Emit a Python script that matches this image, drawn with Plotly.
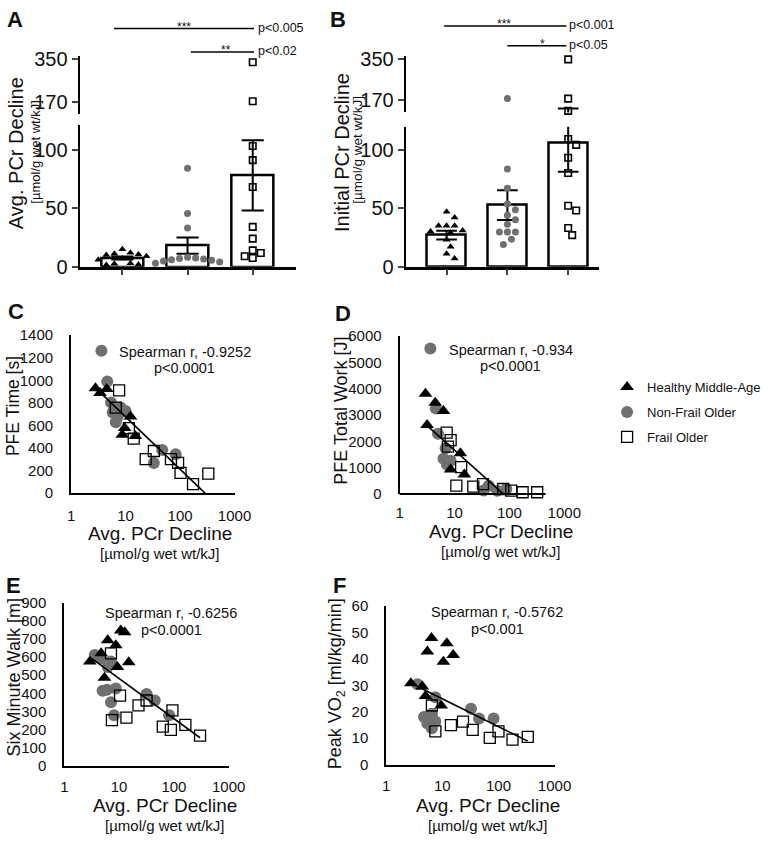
import numpy as np
import plotly.graph_objects as go

W, H = 770, 843
FUENTE = "Arial, 'Liberation Sans', sans-serif"
GRIS = "#707070"
NEGRO = "#111111"

grupos = ["Healthy Middle-Age", "Non-Frail Older", "Frail Older"]

# --- A: Avg. PCr Decline por grupo (puntos individuales, media y SEM)
a_sanos = [15, 12, 11, 10.5, 10, 9, 7, 6, 3, 2.5, 2, 1.5]
a_nofragil = [84, 45.5, 33, 8, 7.5, 7, 6.5, 6, 5.5, 5, 4, 3]
a_fragil = [335, 175, 103, 91, 68, 34, 24, 14, 11.7, 9, 7.5]
a_media = [7.5, 18, 78]
a_sem = [1.3, 7, 30]

# --- B: Initial PCr Decline por grupo
b_sanos = [47, 42, 35, 35, 35, 31, 30, 29, 23, 17, 11, 7]
b_nofragil = [174, 83.5, 67, 53.6, 48.6, 43.9, 40.2, 36.3, 29.6, 29.6, 29.6, 23.5, 19]
b_fragil = [346, 174, 120, 109, 104, 93, 80, 52, 48, 33, 27]
b_media = [27, 52.5, 106]
b_sem = [3.7, 12.7, 25]

# --- C: PFE Time vs Avg. PCr Decline
c_sanos_x = [2.8, 3.4, 4.5, 12.3, 9.6, 8.7, 15.1]
c_sanos_y = [930, 888, 922, 680, 577, 518, 507]
c_nofragil_x = [3.6, 4.6, 5.4, 5.8, 6.6, 6.6, 8.1, 10.0, 7.2, 47, 83, 33]
c_nofragil_y = [1262, 988, 803, 714, 700, 628, 758, 729, 680, 383, 345, 268]
c_fragil_x = [7.6, 6.6, 11.5, 14.1, 33, 23.4, 68, 92, 102, 173, 330]
c_fragil_y = [910, 758, 576, 484, 374, 302, 302, 268, 181, 80, 173]
c_ajuste = [1139, -463]
c_ajuste_x = [2.8, 290]

# --- D: PFE Total Work vs Avg. PCr Decline
d_sanos_x = [2.96, 4.46, 6.3, 3.17, 12.8, 8.5, 15.1]
d_sanos_y = [3810, 3466, 3154, 2623, 1547, 928, 742]
d_nofragil_x = [3.63, 4.57, 5.0, 6.9, 6.3, 8.5, 7.3, 42, 34, 88, 60]
d_nofragil_y = [5529, 3243, 2290, 1733, 1336, 1262, 1113, 312, 126, 186, 120]
d_fragil_x = [7.2, 8.5, 7.6, 13.2, 10.8, 22, 33, 77, 108, 174, 321]
d_fragil_y = [2326, 2041, 1800, 1017, 312, 274, 371, 186, 126, 63, 63]
d_ajuste = [3533, -1872]
d_ajuste_x = [3.17, 77]

# --- E: Six Minute Walk vs Avg. PCr Decline
e_sanos_x = [2.93, 6.2, 8.7, 10.7, 12.6, 9.3, 5.4, 15, 4.7]
e_sanos_y = [576, 693, 666, 747, 738, 545, 486, 571, 621]
e_nofragil_x = [3.6, 4.7, 7.1, 6.2, 5.0, 8.7, 7.1, 8.1, 31.7, 44.7, 82, 6.0]
e_nofragil_y = [612, 594, 576, 545, 414, 427, 351, 279, 396, 360, 279, 420]
e_fragil_x = [7.1, 10.4, 13.6, 7.4, 22.6, 31.7, 62.7, 88, 94, 162, 300]
e_fragil_y = [621, 387, 265, 252, 333, 360, 216, 198, 306, 225, 166]
e_ajuste = [704, -222]
e_ajuste_x = [3.1, 300]

# --- F: Peak VO2 vs Avg. PCr Decline
f_sanos_x = [6.4, 5.4, 12, 15.6, 10.4, 2.75, 4.4, 5, 9.5]
f_sanos_y = [48, 42.8, 46, 41.5, 39, 30.8, 29.6, 26, 22.4]
f_nofragil_x = [3.6, 7.5, 4.7, 6.5, 7.5, 6.5, 32.4, 45, 82, 5.4]
f_nofragil_y = [30.4, 25.5, 18, 19.3, 16.3, 13.8, 21.2, 17.5, 17.5, 15.6]
f_fragil_x = [6.5, 7.5, 14.2, 23.3, 34.7, 70, 100, 178, 333]
f_fragil_y = [22.4, 12.6, 15, 16.3, 13.2, 10.1, 12.6, 9.5, 10.5]
f_ajuste = [35.4, -10.5]
f_ajuste_x = [2.75, 333]


def px(x):
    return x / W


def py(y):
    return 1 - y / H


# ejes partidos: (rango inferior, pixel abajo, pixel arriba), (rango superior, ...)
EJES_A = ((0, 120.8, 264, 119), (121, 361, 108, 48))
EJES_B = ((0, 119.4, 264, 120.7), (113, 361.6, 106, 48))
CAT_A = (77.7, 300, 121.7, 67)
CAT_B = (413, 612, 455, 62.5)


def a_pantalla(v, ejes):
    (r0, r1, b0, t0), (s0, s1, b1, t1) = ejes
    if v <= r1:
        return b0 - (v - r0) / (r1 - r0) * (b0 - t0)
    return b1 - (v - s0) / (s1 - s0) * (b1 - t1)


def enjambre(valores, ejes, diam):
    puestos = []
    salida = []
    for v in valores:
        y = a_pantalla(v, ejes)
        cands = [0.0] + [s * k * diam * 0.55 for k in range(1, 14) for s in (1, -1)]
        for dx in cands:
            if all((dx - a) ** 2 + (y - b) ** 2 >= diam ** 2 for a, b in puestos):
                break
        puestos.append((dx, y))
        salida.append(dx)
    return salida


SIMBOLOS = [
    dict(symbol="triangle-up", color="black"),
    dict(symbol="circle", color=GRIS),
    dict(symbol="square-open", color="black", line=dict(color="black", width=1.6)),
]

fig = go.Figure()


def panel_barras(valores, medias, sems, ejes, cat, xa, ya_inf, ya_sup):
    fig.add_trace(go.Bar(
        x=[0, 1, 2], y=medias, width=0.64, xaxis=xa, yaxis=ya_inf,
        marker=dict(color="white", line=dict(color="black", width=2.5)),
        showlegend=False, hoverinfo="skip",
    ))
    ex, ey = [], []
    for i, (m, s) in enumerate(zip(medias, sems)):
        ex += [i, i, None, i - 0.17, i + 0.17, None, i - 0.17, i + 0.17, None]
        ey += [m - s, m + s, None, m + s, m + s, None, m - s, m - s, None]
    for ya in (ya_inf, ya_sup):
        fig.add_trace(go.Scatter(x=ex, y=ey, mode="lines", xaxis=xa, yaxis=ya,
                                 line=dict(color="black", width=2), showlegend=False))
    corte = ejes[0][1]
    for i, vals in enumerate(valores):
        orden = sorted(vals, reverse=True)
        desp = enjambre(orden, ejes, 7.5)
        xs = [i + d / cat[3] for d in desp]
        estilo = dict(SIMBOLOS[i])
        estilo["size"] = 7 if i < 2 else 6.5
        for ya, filtro in ((ya_inf, lambda v: v <= corte), (ya_sup, lambda v: v > corte)):
            sel = [(x, v) for x, v in zip(xs, orden) if filtro(v)]
            if not sel:
                continue
            fig.add_trace(go.Scatter(
                x=[s[0] for s in sel], y=[s[1] for s in sel], mode="markers",
                xaxis=xa, yaxis=ya, marker=estilo, cliponaxis=False, showlegend=False,
            ))


panel_barras([a_sanos, a_nofragil, a_fragil], a_media, a_sem, EJES_A, CAT_A, "x", "y", "y2")
panel_barras([b_sanos, b_nofragil, b_fragil], b_media, b_sem, EJES_B, CAT_B, "x2", "y3", "y4")


def panel_disp(series, ajuste, ajuste_x, xa, ya, leyenda=False):
    orden_dibujo = [1, 0, 2]
    for i in orden_dibujo:
        xs, ys = series[i]
        estilo = dict(SIMBOLOS[i])
        estilo["size"] = [12, 12, 11][i]
        if i == 2:
            estilo["line"] = dict(color="black", width=1.3)
        fig.add_trace(go.Scatter(
            x=xs, y=ys, mode="markers", xaxis=xa, yaxis=ya, marker=estilo,
            name=grupos[i], legendgroup=grupos[i], legendrank=i + 1,
            showlegend=leyenda, cliponaxis=False,
        ))
    lx = np.array(ajuste_x)
    fig.add_trace(go.Scatter(
        x=lx, y=ajuste[0] + ajuste[1] * np.log10(lx), mode="lines", xaxis=xa, yaxis=ya,
        line=dict(color="black", width=1.6), showlegend=False,
    ))


panel_disp([(c_sanos_x, c_sanos_y), (c_nofragil_x, c_nofragil_y), (c_fragil_x, c_fragil_y)],
           c_ajuste, c_ajuste_x, "x3", "y5", leyenda=True)
panel_disp([(d_sanos_x, d_sanos_y), (d_nofragil_x, d_nofragil_y), (d_fragil_x, d_fragil_y)],
           d_ajuste, d_ajuste_x, "x4", "y6")
panel_disp([(e_sanos_x, e_sanos_y), (e_nofragil_x, e_nofragil_y), (e_fragil_x, e_fragil_y)],
           e_ajuste, e_ajuste_x, "x5", "y7")
panel_disp([(f_sanos_x, f_sanos_y), (f_nofragil_x, f_nofragil_y), (f_fragil_x, f_fragil_y)],
           f_ajuste, f_ajuste_x, "x6", "y8")

# --- ejes
linea = dict(showline=True, linecolor="black", showgrid=False, zeroline=False)


def eje_cat(cat, ancla):
    izq, der, c0, paso = cat
    return dict(linea, domain=[px(izq), px(der)], range=[(izq - c0) / paso, (der - c0) / paso],
                anchor=ancla, tickvals=[0, 1, 2], showticklabels=False, ticks="outside",
                ticklen=6, tickwidth=2, linewidth=2.5)


def eje_partido(ej, ancla, vals):
    r0, r1, b, t = ej
    return dict(linea, domain=[py(b), py(t)], range=[r0, r1], anchor=ancla, tickvals=vals,
                ticks="outside", ticklen=6, tickwidth=2, linewidth=2,
                tickfont=dict(size=20, color=NEGRO))


def eje_log(izq, der, ancla, separacion=8):
    return dict(linea, type="log", domain=[px(izq), px(der)], range=[0, 3], anchor=ancla,
                tickvals=[1, 10, 100, 1000], ticktext=["1", "10", "100", "1000"], ticks="",
                ticklen=0, linewidth=2, tickfont=dict(size=15, color=NEGRO),
                ticklabelstandoff=separacion)


def eje_val(abajo, arriba, rango, paso, ancla):
    return dict(linea, domain=[py(abajo), py(arriba)], range=rango, dtick=paso, anchor=ancla,
                ticks="", ticklen=0, linewidth=2, tickfont=dict(size=15, color=NEGRO),
                ticklabelstandoff=13)


eje_d = eje_log(406.7, 576, "y6")
eje_d["showline"] = False

fig.update_layout(
    xaxis=eje_cat(CAT_A, "y"),
    yaxis=eje_partido(EJES_A[0], "x", [0, 50, 100]),
    yaxis2=eje_partido(EJES_A[1], "x", [170, 350]),
    xaxis2=eje_cat(CAT_B, "y3"),
    yaxis3=eje_partido(EJES_B[0], "x2", [0, 50, 100]),
    yaxis4=eje_partido(EJES_B[1], "x2", [170, 350]),
    xaxis3=eje_log(69, 237, "y5"),
    yaxis5=eje_val(496, 334, [0, 1400], 200, "x3"),
    xaxis4=eje_d,
    yaxis6=eje_val(496.7, 335, [0, 6000], 1000, "x4"),
    xaxis5=eje_log(62, 231, "y7", 6),
    yaxis7=eje_val(775, 608.3, [0, 900], 100, "x5"),
    xaxis6=eje_log(393, 566, "y8", 6),
    yaxis8=eje_val(774, 611.7, [0, 60], 10, "x6"),
)

# --- textos
notas = []


def nota(texto, x, y, size, xanchor="center", angulo=0, negrita=False):
    if negrita:
        texto = "<b>" + texto + "</b>"
    notas.append(dict(text=texto, x=px(x), y=py(y), xref="paper", yref="paper",
                      xanchor=xanchor, yanchor="middle", textangle=angulo, showarrow=False,
                      font=dict(size=size, family=FUENTE, color=NEGRO)))


for letra, x, y in [("A", 1, 11), ("B", 333, 11), ("C", 2, 310), ("D", 338, 312),
                    ("E", 0, 590), ("F", 336, 590)]:
    nota(letra, x, y, 22, xanchor="left", negrita=True)

UNIDAD = "[µmol/g wet wt/kJ]"
nota("Avg. PCr Decline", 13, 148, 20, angulo=-90)
nota(UNIDAD, 32, 146, 13, angulo=-90)
nota("Initial PCr Decline", 347, 147, 20, angulo=-90)
nota(UNIDAD, 364, 144, 13.5, angulo=-90)

nota("PFE Time [s]", 10, 407, 17.5, angulo=-90)
nota("PFE Total Work [J]", 347, 412, 18, angulo=-90)
nota("Six Minute Walk [m]", 10, 685, 18, angulo=-90)
nota("Peak VO<sub>2</sub> [ml/kg/min]", 342, 691, 18, angulo=-90)

for cx, cy in [(160, 537), (511, 535), (166, 815.5), (498, 815.5)]:
    nota("Avg. PCr Decline", cx, cy, 19)
    nota(UNIDAD, cx, cy + 20.5, 15)

for t1, t2, cx, cy in [("Spearman r, -0.9252", "p<0.0001", 186, 351),
                       ("Spearman r, -0.934", "p<0.0001", 521, 349),
                       ("Spearman r, -0.6256", "p<0.0001", 172, 619),
                       ("Spearman r, -0.5762", "p<0.001", 507, 618)]:
    nota(t1, cx, cy, 14.5)
    nota(t2, cx, cy + 17, 14.5)

# significancia
formas = []
for x0, x1, y, estrellas, ptxt, xa, cx in [
        (-0.13, 2.02, 20, "***", "p<0.005", "x", 185),
        (1.05, 2.02, 44, "**", "p<0.02", "x", 228),
        (-0.04, 1.97, 17.3, "***", "p<0.001", "x2", 514),
        (1.0, 1.97, 37.7, "*", "p<0.05", "x2", 554)]:
    formas.append(dict(type="line", xref=xa, yref="paper", x0=x0, x1=x1, y0=py(y), y1=py(y),
                       line=dict(color="black", width=1.5)))
    nota(estrellas, cx, y - 1.5, 12)
    nota(ptxt, 259 if xa == "x" else 579, y - 1, 12.5, xanchor="left")

# eje x de D: la línea termina antes de la marca 1000
formas.append(dict(type="line", xref="paper", yref="paper", x0=px(406.7), x1=px(556.7),
                   y0=py(496.7), y1=py(496.7), line=dict(color="black", width=2)))

fig.update_layout(
    width=W, height=H, margin=dict(l=0, r=0, t=0, b=0),
    paper_bgcolor="white", plot_bgcolor="white",
    font=dict(family=FUENTE, color=NEGRO),
    annotations=notas, shapes=formas, bargap=0,
    showlegend=True,
    legend=dict(x=px(620), y=py(372), xanchor="left", yanchor="top",
                font=dict(size=13, family=FUENTE, color=NEGRO),
                bgcolor="rgba(0,0,0,0)", itemwidth=30, tracegroupgap=5,
                traceorder="grouped"),
)

fig.write_html("out.html", config={"displayModeBar": False},
               post_script="document.body.style.margin='0';")
